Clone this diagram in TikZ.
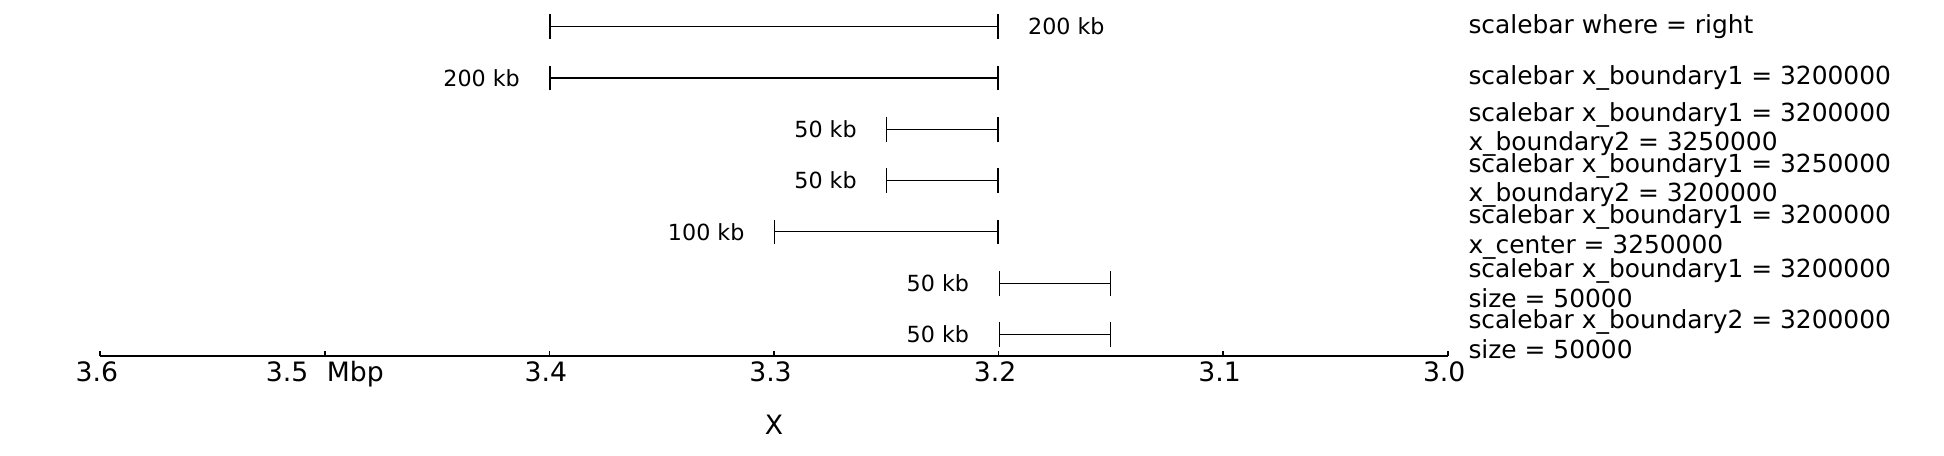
\documentclass[tikz,border=0pt]{standalone}
\usepackage{fontspec}
\setmainfont{DejaVu Sans}
\usetikzlibrary{arrows.meta,positioning}

\begin{document}
\begin{tikzpicture}[
  x=0.45bp, y=-0.45bp,
  every node/.style={inner sep=0pt, outer sep=0pt},
  scalebar/.style={line width=0.5bp, {Bar[width=11.1bp]}-{Bar[width=11.1bp]}},
  barlbl/.style={font=\fontsize{10bp}{12bp}\selectfont},
  note/.style={font=\fontsize{11.2bp}{13.3bp}\selectfont, align=left, anchor=west},
  ticklbl/.style={font=\fontsize{12bp}{14.4bp}\selectfont, anchor=base},
  axisline/.style={line width=0.8bp},
]
  \useasboundingbox (0,0) rectangle (1944,456);

  % Scale bars
  \coordinate (b1l) at (549.4,26.7);  \coordinate (b1r) at (998.6,26.7);
  \coordinate (b2l) at (549.4,78);    \coordinate (b2r) at (998.6,78);
  \coordinate (b3l) at (886.3,129.3); \coordinate (b3r) at (998.6,129.3);
  \coordinate (b4l) at (886.3,180.6); \coordinate (b4r) at (998.6,180.6);
  \coordinate (b5l) at (774.0,231.9); \coordinate (b5r) at (998.6,231.9);
  \coordinate (b6l) at (998.6,283.2); \coordinate (b6r) at (1110.9,283.2);
  \coordinate (b7l) at (998.6,334.5); \coordinate (b7r) at (1110.9,334.5);
  \foreach \i in {1,...,7} {
    \draw[scalebar] (b\i l) -- (b\i r);
  }

  % Bar labels
  \node[barlbl, right=13.3bp of b1r] (l1) {200 kb};
  \node[barlbl, left=13.3bp of b2l] (l2) {200 kb};
  \node[barlbl, left=13.3bp of b3l] (l3) {50 kb};
  \node[barlbl, left=13.3bp of b4l] (l4) {50 kb};
  \node[barlbl, left=13.3bp of b5l] (l5) {100 kb};
  \node[barlbl, left=13.3bp of b6l] (l6) {50 kb};
  \node[barlbl, left=13.3bp of b7l] (l7) {50 kb};

  % Notes
  \node[note] (n1) at (1468.5,26.7) {scalebar where = right};
  \node[note] (n2) at (1468.5,78) {scalebar x\_boundary1 = 3200000};
  \node[note] (n3) at (1468.5,129.3) {scalebar x\_boundary1 = 3200000\\x\_boundary2 = 3250000};
  \node[note] (n4) at (1468.5,180.6) {scalebar x\_boundary1 = 3250000\\x\_boundary2 = 3200000};
  \node[note] (n5) at (1468.5,231.9) {scalebar x\_boundary1 = 3200000\\x\_center = 3250000};
  \node[note] (n6) at (1468.5,283.2) {scalebar x\_boundary1 = 3200000\\size = 50000};
  \node[note] (n7) at (1468.5,334.5) {scalebar x\_boundary2 = 3200000\\size = 50000};

  % Axis
  \coordinate (axL) at (100.3,355.7);
  \coordinate (axR) at (1447.7,355.7);
  \draw[axisline] (axL) -- (axR);
  \foreach \xx [count=\i] in {100.3,324.9,549.4,774.0,998.6,1223.1,1447.7} {
    \coordinate (tk\i) at (\xx,355.7);
    \draw[axisline] (tk\i) -- ++(0,-5);
  }
  \foreach \xx/\val in {100.3/3.6, 549.4/3.4, 774.0/3.3, 998.6/3.2, 1223.1/3.1, 1447.7/3.0} {
    \node[ticklbl] (lb\val) at (\xx-3.5,382) {\val};
  }
  \node[ticklbl] (lbmbp) at (324.9,382) {3.5\hspace{0.7em}Mbp};
  \node[ticklbl] (xlab) at (774,435) {X};
\end{tikzpicture}
\end{document}
